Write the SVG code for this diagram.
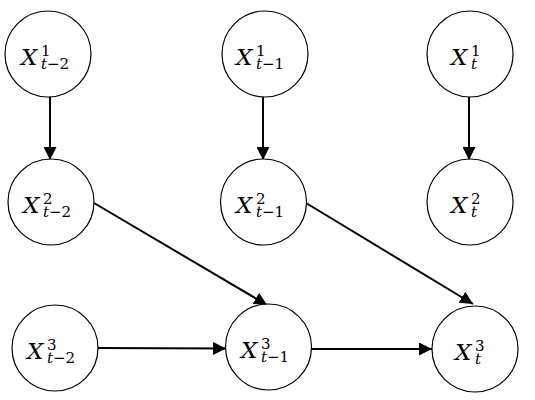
<svg xmlns="http://www.w3.org/2000/svg" width="535" height="400" viewBox="0 0 535 400">
<style>
.n{fill:#fff;stroke:#000;stroke-width:1.2}
.e{stroke:#000;stroke-width:2;fill:none;marker-end:url(#ah)}
.X{font-family:"DejaVu Serif","Liberation Serif",serif;font-style:italic;font-size:23px}
.s{font-family:"DejaVu Serif","Liberation Serif",serif;font-size:15px}
.i{font-style:italic}
</style>
<defs>
<marker id="ah" viewBox="0 0 12 12" refX="12" refY="6" markerWidth="6.5" markerHeight="6.5" orient="auto" markerUnits="strokeWidth"><path d="M0,0 L12,6 L0,12 Z" fill="#000"/></marker>
</defs>
<rect width="535" height="400" fill="#fff"/>
<g id="connectors">
<line class="e" x1="50" y1="97" x2="50" y2="160"/>
<line class="e" x1="263" y1="97" x2="263" y2="160"/>
<line class="e" x1="469" y1="97" x2="469" y2="160"/>
<line class="e" x1="94" y1="203" x2="267" y2="305"/>
<line class="e" x1="306" y1="203" x2="473" y2="304"/>
<line class="e" x1="98" y1="348" x2="226" y2="348.5"/>
<line class="e" x1="311" y1="349" x2="432" y2="349"/>
</g>
<g id="n11"><circle class="n" cx="48" cy="54" r="43"/><text class="X" x="21" y="65">X</text><text class="s" x="41" y="56">1</text><text class="s" x="41" y="69"><tspan class="i">t</tspan>−2</text></g>
<g id="n12"><circle class="n" cx="265" cy="54" r="43"/><text class="X" x="236" y="65">X</text><text class="s" x="256" y="56">1</text><text class="s" x="256" y="69"><tspan class="i">t</tspan>−1</text></g>
<g id="n13"><circle class="n" cx="470" cy="54" r="43"/><text class="X" x="451" y="65">X</text><text class="s" x="471" y="56">1</text><text class="s i" x="471" y="69">t</text></g>
<g id="n21"><circle class="n" cx="51" cy="202" r="43"/><text class="X" x="23" y="213">X</text><text class="s" x="43" y="204">2</text><text class="s" x="43" y="217"><tspan class="i">t</tspan>−2</text></g>
<g id="n22"><circle class="n" cx="263.5" cy="202" r="43"/><text class="X" x="236" y="213">X</text><text class="s" x="256" y="204">2</text><text class="s" x="256" y="217"><tspan class="i">t</tspan>−1</text></g>
<g id="n23"><circle class="n" cx="470" cy="202" r="43"/><text class="X" x="451" y="213">X</text><text class="s" x="471" y="204">2</text><text class="s i" x="471" y="217">t</text></g>
<g id="n31"><circle class="n" cx="55" cy="348" r="43"/><text class="X" x="27" y="359">X</text><text class="s" x="47" y="350">3</text><text class="s" x="47" y="363"><tspan class="i">t</tspan>−2</text></g>
<g id="n32"><circle class="n" cx="268.5" cy="347" r="43"/><text class="X" x="241" y="358">X</text><text class="s" x="261" y="349">3</text><text class="s" x="261" y="362"><tspan class="i">t</tspan>−1</text></g>
<g id="n33"><circle class="n" cx="475" cy="349" r="43"/><text class="X" x="455" y="360">X</text><text class="s" x="475" y="351">3</text><text class="s i" x="475" y="364">t</text></g>
</svg>
